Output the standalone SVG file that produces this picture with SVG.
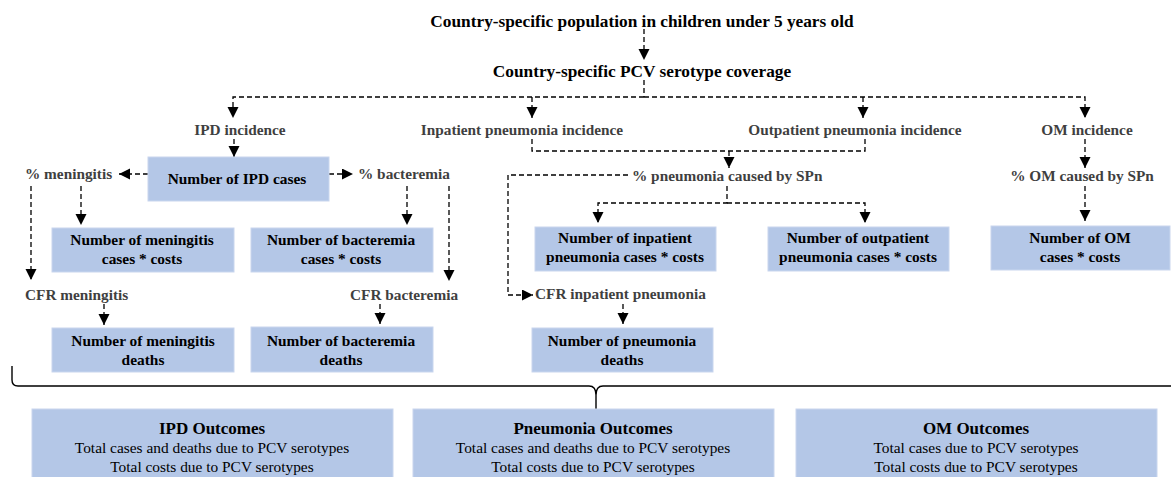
<svg xmlns="http://www.w3.org/2000/svg" width="1171" height="477" viewBox="0 0 1171 477">
<style>
.bg{fill:#ffffff}
.box{fill:#b4c7e7;stroke:#c9d6ee;stroke-width:1}
.title{font-family:"Liberation Serif","Times New Roman",serif;font-weight:bold;font-size:17.3px;fill:#000;text-anchor:middle}
.lbl{font-family:"Liberation Serif","Times New Roman",serif;font-weight:bold;font-size:15.3px;fill:#3f3f3f}
.bt{font-family:"Liberation Serif","Times New Roman",serif;font-weight:bold;font-size:15.4px;fill:#000;text-anchor:middle}
.ot{font-family:"Liberation Serif","Times New Roman",serif;font-weight:bold;font-size:17px;fill:#000;text-anchor:middle}
.or{font-family:"Liberation Serif","Times New Roman",serif;font-size:15.4px;fill:#000;text-anchor:middle}
.dash{fill:none;stroke:#000;stroke-width:1.3;stroke-dasharray:5 3}
.arr{marker-end:url(#ah)}
.brace{fill:none;stroke:#000;stroke-width:1.4}
</style>
<defs>
<marker id="ah" markerUnits="userSpaceOnUse" markerWidth="12" markerHeight="12" refX="11" refY="5.5" orient="auto">
<path d="M0,0 L11,5.5 L0,11 z" fill="#000"/>
</marker>
</defs>
<rect class="bg" x="0" y="0" width="1171" height="477"/>

<g id="connectors">
<path class="dash arr" d="M644,29 V60"/>
<path class="dash" d="M644,80 V97"/>
<path class="dash arr" d="M644,97 H233 V118"/>
<path class="dash arr" d="M644,97 H1085 V118"/>
<path class="dash arr" d="M532,97 V118"/>
<path class="dash arr" d="M863,97 V118"/>
<path class="dash arr" d="M234,139 V157"/>
<path class="dash arr" d="M148,174 H119"/>
<path class="dash arr" d="M329,174 H353"/>
<path class="dash arr" d="M31,186 V280"/>
<path class="dash arr" d="M81,186 V225"/>
<path class="dash arr" d="M407,186 V225"/>
<path class="dash arr" d="M449,186 V281"/>
<path class="dash arr" d="M104,304 V325"/>
<path class="dash arr" d="M380,304 V324"/>
<path class="dash" d="M532,139 V151 H865 V139"/>
<path class="dash arr" d="M729,151 V168"/>
<path class="dash arr" d="M628,175 H508 V295 H533"/>
<path class="dash arr" d="M727,186 V203 H598 V223"/>
<path class="dash arr" d="M727,203 H865 V223"/>
<path class="dash arr" d="M623,304 V324"/>
<path class="dash arr" d="M1085,139 V168"/>
<path class="dash arr" d="M1085,186 V221"/>
<path class="brace" d="M12,366 V380 Q12,386 18,386 H589 Q596,386 596,395 Q596,386 603,386 H1171 M596,394 V409"/>
</g>

<g id="n-population"><text class="title" x="642" y="27">Country-specific population in children under 5 years old</text></g>
<g id="n-coverage"><text class="title" x="642" y="77">Country-specific PCV serotype coverage</text></g>

<g id="n-ipd-inc"><text class="lbl" x="240" y="135" text-anchor="middle">IPD incidence</text></g>
<g id="n-inp-inc"><text class="lbl" x="522" y="135" text-anchor="middle">Inpatient pneumonia incidence</text></g>
<g id="n-outp-inc"><text class="lbl" x="855" y="135" text-anchor="middle">Outpatient pneumonia incidence</text></g>
<g id="n-om-inc"><text class="lbl" x="1087" y="135" text-anchor="middle">OM incidence</text></g>

<g id="n-ipd-cases"><rect class="box" x="148" y="157" width="181" height="44"/><text class="bt" x="237" y="184">Number of IPD cases</text></g>
<g id="n-pct-men"><text class="lbl" x="25" y="179">% meningitis</text></g>
<g id="n-pct-bac"><text class="lbl" x="358" y="179">% bacteremia</text></g>
<g id="n-pct-pneu"><text class="lbl" x="632" y="181">% pneumonia caused by SPn</text></g>
<g id="n-pct-om"><text class="lbl" x="1082" y="181" text-anchor="middle">% OM caused by SPn</text></g>

<g id="n-men-cases"><rect class="box" x="52" y="228" width="182" height="44"/><text class="bt" x="142" y="245">Number of meningitis</text><text class="bt" x="142" y="264">cases * costs</text></g>
<g id="n-bac-cases"><rect class="box" x="251" y="228" width="182" height="44"/><text class="bt" x="341" y="245">Number of bacteremia</text><text class="bt" x="341" y="264">cases * costs</text></g>
<g id="n-inp-cases"><rect class="box" x="535" y="227" width="181" height="44"/><text class="bt" x="625" y="243">Number of inpatient</text><text class="bt" x="625" y="262">pneumonia cases * costs</text></g>
<g id="n-outp-cases"><rect class="box" x="768" y="227" width="181" height="44"/><text class="bt" x="858" y="243">Number of outpatient</text><text class="bt" x="858" y="262">pneumonia cases * costs</text></g>
<g id="n-om-cases"><rect class="box" x="991" y="226" width="179" height="44"/><text class="bt" x="1080" y="243">Number of OM</text><text class="bt" x="1080" y="262">cases * costs</text></g>

<g id="n-cfr-men"><text class="lbl" x="25" y="300">CFR meningitis</text></g>
<g id="n-cfr-bac"><text class="lbl" x="350" y="300">CFR bacteremia</text></g>
<g id="n-cfr-pneu"><text class="lbl" x="535" y="299">CFR inpatient pneumonia</text></g>

<g id="n-men-deaths"><rect class="box" x="52" y="328" width="182" height="44"/><text class="bt" x="143" y="346">Number of meningitis</text><text class="bt" x="143" y="365">deaths</text></g>
<g id="n-bac-deaths"><rect class="box" x="251" y="327" width="182" height="45"/><text class="bt" x="341" y="346">Number of bacteremia</text><text class="bt" x="341" y="365">deaths</text></g>
<g id="n-pneu-deaths"><rect class="box" x="532" y="328" width="181" height="44"/><text class="bt" x="622" y="346">Number of pneumonia</text><text class="bt" x="622" y="365">deaths</text></g>

<g id="n-ipd-out"><rect class="box" x="32" y="409" width="361" height="69"/><text class="ot" x="212" y="434">IPD Outcomes</text><text class="or" x="212" y="453">Total cases and deaths due to PCV serotypes</text><text class="or" x="212" y="472">Total costs due to PCV serotypes</text></g>
<g id="n-pneu-out"><rect class="box" x="413" y="409" width="361" height="69"/><text class="ot" x="593" y="434">Pneumonia Outcomes</text><text class="or" x="593" y="453">Total cases and deaths due to PCV serotypes</text><text class="or" x="593" y="472">Total costs due to PCV serotypes</text></g>
<g id="n-om-out"><rect class="box" x="796" y="409" width="361" height="69"/><text class="ot" x="976" y="434">OM Outcomes</text><text class="or" x="976" y="453">Total cases due to PCV serotypes</text><text class="or" x="976" y="472">Total costs due to PCV serotypes</text></g>
</svg>
